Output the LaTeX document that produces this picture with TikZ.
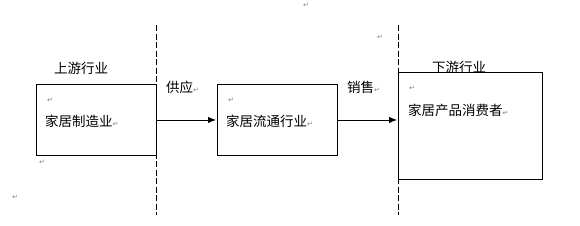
\documentclass[tikz,border=0pt]{standalone}
\usepackage{fontspec}
\usepackage{xcolor}
\newfontfamily\cjk{Noto Sans CJK SC}
\newfontfamily\markfont{DejaVu Sans}
\usetikzlibrary{positioning, arrows.meta}
\newcommand{\ret}{{\color{gray}\markfont\fontsize{7}{7}\selectfont ↵}}

\tikzset{
	box/.style={shape=rectangle, draw, line width=0.9pt, fill=white, anchor=north west, inner sep=0pt},
	lbl/.style={font=\cjk\fontsize{13.5}{14}\selectfont, inner sep=0pt, anchor=west},
	retmark/.style={font=\markfont\fontsize{7}{7}\selectfont, text=gray, inner sep=0pt},
	divider/.style={dash pattern=on 6pt off 2.5pt, line width=0.8pt},
	flow/.style={-{Latex[length=8pt, width=6.5pt]}, line width=0.9pt},
}

\begin{document}
\begin{tikzpicture}[x=1pt, y=-1pt]
	\useasboundingbox (0, 0) rectangle (580, 225);
	% Dividing lines:
	\coordinate (cut1top) at (156, 25);
	\coordinate (cut1bot) at (156, 215);
	\coordinate (cut2top) at (398, 25);
	\coordinate (cut2bot) at (398, 215);
	\draw[divider] (cut1top) -- (cut1bot);
	\draw[divider] (cut2top) -- (cut2bot);
	% Industry labels:
	\node[lbl] (upstream) at (54, 68){上游行业};
	\node[lbl] (downstream) at (432, 67.5){下游行业};
	% Boxes:
	\node[box, minimum width=120, minimum height=71] (maker) at (36, 84){};
	\node[box, minimum width=120, minimum height=71] (dealer) at (217, 84){};
	\node[box, minimum width=144, minimum height=107] (buyer) at (398, 72){};
	\node[lbl] (makertxt) at (45, 121){家居制造业\ret};
	\node[lbl] (dealertxt) at (226, 121){家居流通行业\ret};
	\node[lbl] (buyertxt) at (408, 110){家居产品消费者\ret};
	% Arrows:
	\draw[flow] (maker.east) -- ([xshift=-1]dealer.west);
	\draw[flow] (dealer.east) -- ([xshift=-1]buyer.west |- dealer.east);
	\node[lbl] (supply) at (166, 87){供应\ret};
	\node[lbl] (sales) at (347, 87){销售\ret};
	% Paragraph marks:
	\node[retmark] (r1) at (50, 100){↵};
	\node[retmark] (r2) at (231, 100){↵};
	\node[retmark] (r3) at (412, 88){↵};
	\node[retmark] (r4) at (42, 162){↵};
	\node[retmark] (r5) at (15, 197){↵};
	\node[retmark] (r6) at (306, 5){↵};
	\node[retmark] (r7) at (380, 37){↵};
\end{tikzpicture}
\end{document}
